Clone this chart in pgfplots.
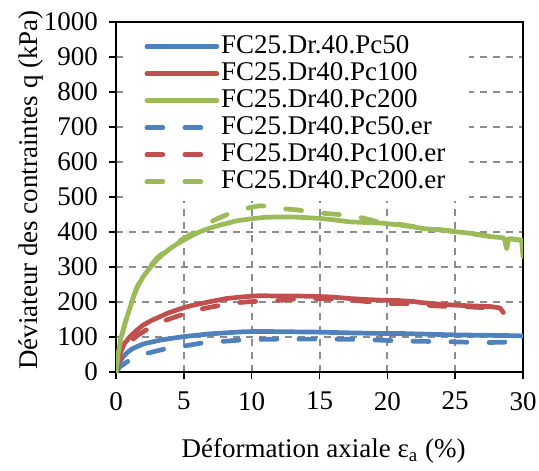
\documentclass[border=0pt]{standalone}
\usepackage{fontspec}
\setmainfont{Liberation Serif}
\usepackage{pgfplots}
\pgfplotsset{compat=1.18}

\definecolor{xlblue}{RGB}{79,129,189}
\definecolor{xlred}{RGB}{192,80,77}
\definecolor{xlgreen}{RGB}{155,187,89}

\newcommand{\fs}{\fontsize{13.5}{16}\selectfont}

\begin{document}
\begin{tikzpicture}
\begin{axis}[
  scale only axis, width=203.5pt, height=175pt,
  xmin=0, xmax=30, ymin=0, ymax=1000,
  xtick={0,5,...,30}, ytick={0,100,...,1000},
  tick pos=left, tick align=outside, major tick length=3.5pt,
  tick style={black, line width=0.8pt},
  axis line style={line width=1pt},
  grid=major,
  major grid style={black!45, line width=1pt, dash pattern=on 3.5pt off 3pt},
  /pgf/number format/assume math mode=true,
  /pgf/number format/1000 sep={},
  tick label style={font=\fs},
  xticklabel style={yshift=-3pt},
  yticklabel style={xshift=-2pt},
  xlabel={Déformation axiale ε\textsubscript{a} (\%)},
  ylabel={Déviateur des contraintes q (kPa)},
  label style={font=\fs},
  xlabel style={at={(axis description cs:0.51,-0.243)}, anchor=base},
  ylabel style={at={(axis description cs:-0.194,0.52)}, anchor=base},
  legend cell align=left,
  legend style={at={(axis description cs:0.015,0.986)}, anchor=north west,
    draw=none, fill=white, font=\fs, inner xsep=11pt, inner ysep=3pt,
    row sep=0pt, nodes={inner sep=1pt, text height=9pt, text depth=2.5pt}},
  legend image code/.code={\draw[#1] (0pt,0pt) -- (35pt,0pt);},
  every axis plot/.append style={line width=2.35pt, line cap=round, line join=round},
  er/.style={dash pattern=on 8pt off 11pt},
]
\addplot[xlblue] coordinates {
  (0,0) (0.15,22) (0.54,44) (0.9,58) (1.28,68) (2.0,80) (3.24,91) (4.96,101)
  (6.93,109) (9.4,115) (10.6,116) (12.5,115) (14.8,114) (17.0,112) (19.7,110)
  (21.0,110) (23.0,108) (25.0,106) (27.0,105) (29.0,104) (30.0,103)};
\addlegendentry{FC25.Dr.40.Pc50}
\addplot[xlred] coordinates {
  (0,0) (0.1,25) (0.3,53) (0.6,80) (1.03,101) (1.5,118) (2.0,134) (2.6,147)
  (3.24,158) (3.8,168) (4.47,177) (5.0,184) (5.7,191) (6.93,201) (8.16,210)
  (9.4,215) (10.6,218) (12.0,217) (13.5,217) (14.8,216) (16.0,214) (17.2,210)
  (18.5,207) (19.7,205) (20.9,204) (22.0,201) (22.6,198) (23.8,194) (25.0,191)
  (26.2,189) (27.6,187) (28.3,183) (28.55,170)};
\addlegendentry{FC25.Dr40.Pc100}
\addplot[xlgreen] coordinates {
  (0,0) (0.15,50) (0.35,95) (0.66,139) (1.0,180) (1.28,215) (1.6,245) (2.0,272)
  (2.5,298) (3.0,320) (3.5,338) (4.0,353) (4.5,366) (5.0,377) (5.6,390)
  (6.2,401) (6.9,411) (7.7,420) (8.9,432) (10.0,438) (11.0,442) (12.0,443)
  (13.0,443) (14.0,441) (15.0,439) (16.0,435) (17.2,429) (18.5,427) (19.7,425)
  (20.9,420) (22.0,414) (22.6,410) (23.8,406) (25.0,401) (26.2,396) (27.6,387)
  (28.6,383) (28.8,352) (28.95,381) (29.5,378) (29.9,376) (30.0,330)};
\addlegendentry{FC25.Dr40.Pc200}
\addplot[xlblue, er] coordinates {
  (0,0) (0.3,15) (1.0,34) (2.26,53) (3.5,65) (5.0,74) (6.2,82) (7.7,87)
  (9.1,91) (10.5,93) (12.0,94) (14.0,94) (16.0,94) (17.8,93) (19.5,91)
  (21.5,88) (24.0,87) (27.0,84) (28.5,85) (30.0,88)};
\addlegendentry{FC25.Dr40.Pc50.er}
\addplot[xlred, er] coordinates {
  (0,0) (0.2,30) (0.5,58) (1.0,85) (1.6,105) (2.3,122) (3.0,137) (3.6,147)
  (4.8,163) (5.9,177) (7.2,187) (8.6,197) (9.9,201) (11.4,203) (12.6,206)
  (13.8,211) (15.0,210) (16.3,208) (17.5,205) (18.8,200) (19.7,194) (21.0,196)
  (22.0,194) (23.5,189) (24.5,187) (26.0,186) (27.0,184) (28.0,181) (28.5,172)};
\addlegendentry{FC25.Dr40.Pc100.er}
\addplot[xlgreen, er] coordinates {
  (0,0) (0.2,60) (0.5,115) (1.0,185) (1.5,238) (2.0,275) (3.0,325) (4.0,358)
  (5.0,382) (5.6,395) (6.5,418) (7.4,437) (8.5,455) (9.9,470) (10.6,475)
  (11.5,472) (12.2,467) (13.4,463) (14.7,455) (15.8,452) (17.0,448) (18.2,440)
  (19.2,430) (20.4,426) (21.5,418) (23.0,410) (24.5,404) (26.0,396) (27.5,388)
  (28.5,384) (29.3,380) (30.0,376)};
\addlegendentry{FC25.Dr40.Pc200.er}
\end{axis}
\pgfresetboundingbox
\path[use as bounding box] ([shift={(-58pt,-49pt)}]current axis.south west)
  rectangle ([shift={(211.5pt,186pt)}]current axis.south west);
\end{tikzpicture}
\end{document}
